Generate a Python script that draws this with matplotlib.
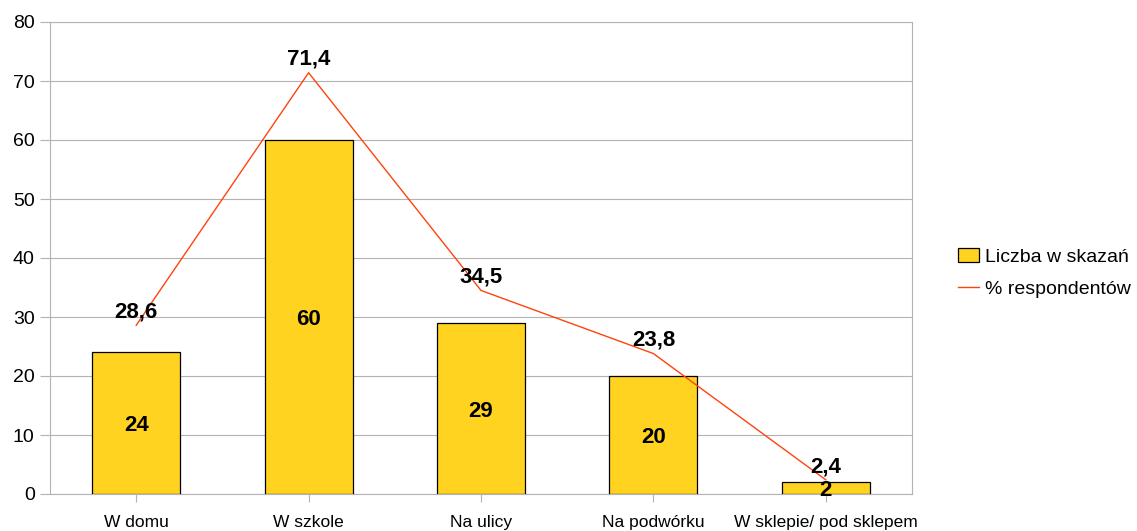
import matplotlib
matplotlib.use("Agg")
import matplotlib.pyplot as plt
import numpy as np

# chart data
categories = ["W domu", "W szkole", "Na ulicy", "Na podwórku", "W sklepie/ pod sklepem"]
counts = [24, 60, 29, 20, 2]
percents = [28.6, 71.4, 34.5, 23.8, 2.4]
percent_labels = ["28,6", "71,4", "34,5", "23,8", "2,4"]

bar_color = "#FFD320"
line_color = "#FF420E"
grid_color = "#B3B3B3"

plt.rcParams["font.family"] = ["Liberation Sans", "DejaVu Sans"]

fig = plt.figure(figsize=(11.37, 5.31), dpi=100)
ax = fig.add_axes([50 / 1137, 37 / 531, 862 / 1137, 472 / 531])

x = np.arange(len(categories))
bars = ax.bar(x, counts, width=0.51, color=bar_color, edgecolor="black",
              linewidth=0.9, label="Liczba w skazań", zorder=3)
line, = ax.plot(x, percents, color=line_color, linewidth=1.0,
                label="% respondentów", zorder=4)

# value labels inside the bars
for xi, c in zip(x, counts):
    ax.annotate(str(c), (xi, c / 2), xytext=(0, -2), textcoords="offset points",
                ha="center", va="center", fontsize=16, fontweight="bold", zorder=5)

# value labels above the line points
for xi, p, lab in zip(x, percents, percent_labels):
    ax.annotate(lab, (xi, p), xytext=(0, 2), textcoords="offset points",
                ha="center", va="bottom", fontsize=16, fontweight="bold", zorder=5)

ax.set_xlim(-0.5, len(categories) - 0.5)
ax.set_ylim(0, 80)
ax.set_yticks(range(0, 81, 10))
ax.set_xticks(x)
ax.set_xticklabels(categories, fontsize=12.5)
ax.tick_params(axis="y", labelsize=14, length=7, color=grid_color, pad=4)
ax.tick_params(axis="x", length=6, color=grid_color, pad=9)

ax.yaxis.grid(True, color=grid_color, linewidth=0.8, zorder=0)
ax.set_axisbelow(True)
for s in ax.spines.values():
    s.set_color(grid_color)
    s.set_linewidth(0.8)

fig.legend(handles=[bars, line], loc="center left",
           bbox_to_anchor=(958 / 1137, 1 - 273 / 531), frameon=False,
           fontsize=14, handlelength=1.1, handletextpad=0.3, labelspacing=0.75,
           borderpad=0, borderaxespad=0)

fig.savefig("out.png", dpi=100)
